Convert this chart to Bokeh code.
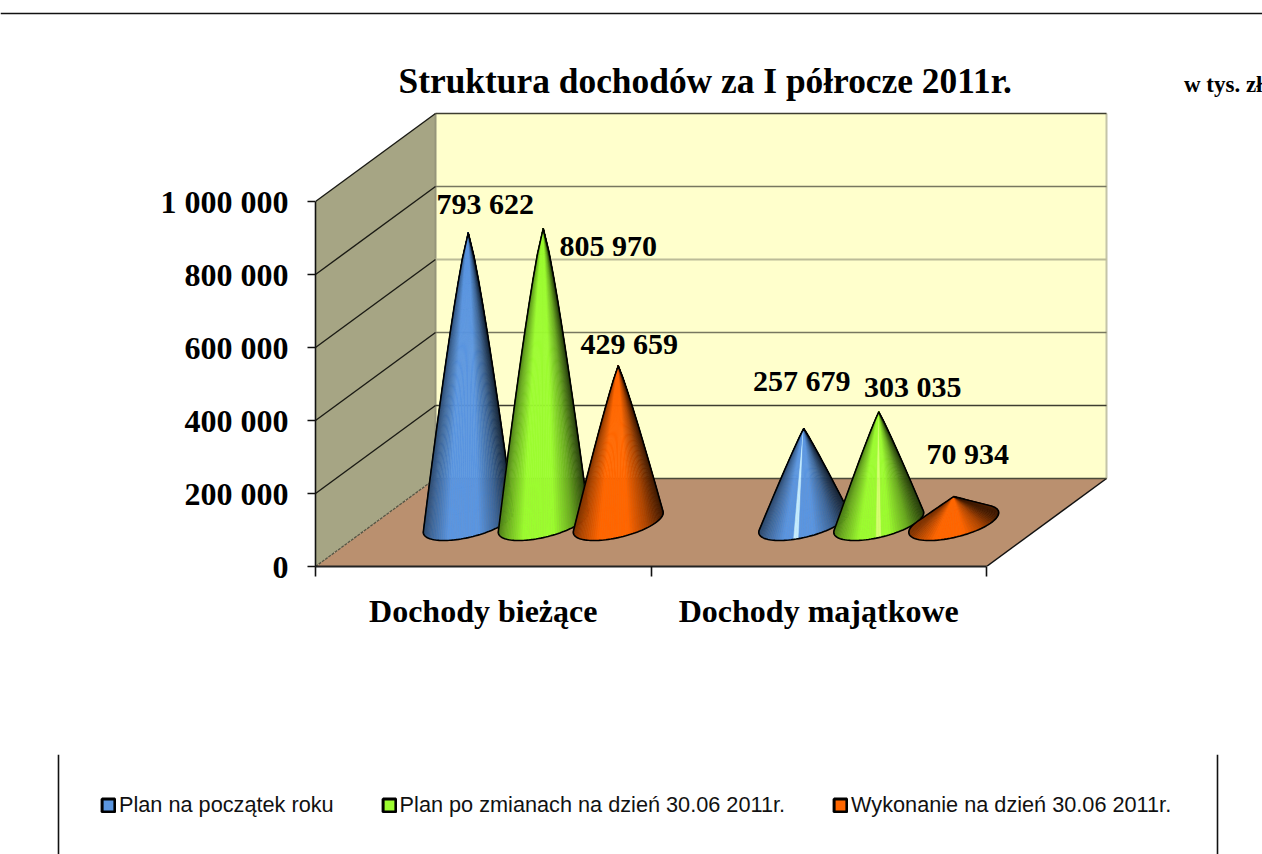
import numpy as np
from bokeh.plotting import figure
from bokeh.embed import file_html
from bokeh.resources import INLINE
from bokeh.models import Range1d, FixedTicker, Span, Title, Legend, LegendItem, ColumnDataSource, LinearAxis
from bokeh.core.properties import value

# ---- data
title_text = "Struktura dochodów za I półrocze 2011r."
unit_text = "w tys. zł"
categories = ["Dochody bieżące", "Dochody majątkowe"]
series_names = ["Plan na początek roku", "Plan po zmianach na dzień 30.06 2011r.", "Wykonanie na dzień 30.06 2011r."]
plan_start = [793622, 257679]
plan_changed = [805970, 303035]
realised = [429659, 70934]
value_labels = [["793 622", "257 679"], ["805 970", "303 035"], ["429 659", "70 934"]]
y_ticks = [0, 200000, 400000, 600000, 800000, 1000000]
y_tick_labels = ["0", "200 000", "400 000", "600 000", "800 000", "1 000 000"]

# ---- style
BLUE, GREEN, ORANGE = (0x5B, 0x96, 0xE0), (0x9C, 0xFC, 0x30), (0xFF, 0x66, 0x00)
series_rgb = [BLUE, GREEN, ORANGE]
WALL, BACK, FLOOR = "#a6a584", "#ffffcc", "#ba906f"
grid_colors = ["#4a4a38", "#3d3d30", "#77775f", "#bcbc98", "#77775f", "#3d3d30"]
SERIF = value("Liberation Serif")

PX_X, PX_Y = 335.5, 365 / 1e6           # pixels per category / per value unit
DX, DY = 120 / PX_X, 88 / PX_Y          # depth of the 3D box
R, KX, KY = 37.7 / PX_X, 24.5 / PX_X, 18 / PX_Y  # cone base ellipse
SPREAD = 75 / PX_X
# label offsets from the apex (px), by series, by category
label_off = [[(17, -29), (-2, -48)], [(65, 17), (34, -25)], [(11, -22), (14, -43)]]
highlights = [[None, (0.42, "#c4ecff")], [None, (0.5, "#d4ff70")], [None, None]]


def shade(rgb, s):
    pts_s = [0.0, 0.08, 0.28, 0.62, 0.82, 1.0]
    pts_v = [0.5, 0.68, 1.0, 1.0, 0.68, 0.25]
    f = float(np.interp(s, pts_s, pts_v))
    return "#%02x%02x%02x" % tuple(int(c * f) for c in rgb)


def cone(cx, val, rgb, hl):
    base = DY / 2
    t = np.linspace(-np.pi, np.pi, 721)
    ex = cx + R * np.cos(t) + KX * np.sin(t)
    ey = base + KY * np.sin(t)
    ax, ay = cx, base + val
    ang = np.arctan2((ex - ax) * PX_X, (ay - ey) * PX_Y)
    il, ir = int(np.argmin(ang)), int(np.argmax(ang))
    tl, tr = t[il], t[ir]
    if tl > -np.pi / 2:
        tl -= 2 * np.pi
    if tr < -np.pi / 2:
        tr += 2 * np.pi
    arc = np.linspace(tl, tr, 61)
    bx = cx + R * np.cos(arc) + KX * np.sin(arc)
    by = base + KY * np.sin(arc)
    lo, hi = bx.min(), bx.max()
    # generators bow slightly outward on the tall cones
    exponent = 1 - 0.17 * min(1.0, val / 800000)
    h = np.linspace(0, 1, 13)
    gx = h ** exponent

    def gen(i):
        return list(ax + (bx[i] - ax) * gx), list(ay + (by[i] - ay) * h)

    xs, ys, cols = [], [], []
    for i in range(len(arc) - 1):
        x1, y1 = gen(i)
        x2, y2 = gen(i + 1)
        xs.append(x1 + x2[::-1])
        ys.append(y1 + y2[::-1])
        s = (0.5 * (bx[i] + bx[i + 1]) - lo) / (hi - lo)
        c = shade(rgb, s)
        if hl and abs(s - hl[0]) < 0.035:
            c = hl[1]
        cols.append(c)
    lx_, ly_ = gen(0)
    rx_, ry_ = gen(len(arc) - 1)
    ox = lx_ + list(bx) + rx_[::-1]
    oy = ly_ + list(by) + ry_[::-1]
    return xs, ys, cols, ox, oy


# ---- strip with the rule at the top
strip = figure(width=1262, height=18, x_range=Range1d(0, 1), y_range=Range1d(0, 18),
               x_axis_location=None, y_axis_location=None, toolbar_location=None,
               output_backend="svg", min_border=0, outline_line_color=None)
strip.grid.visible = False
strip.add_layout(Span(location=5, dimension="width", line_color="#111111", line_width=1.6))

# ---- main chart
p = figure(width=1262, height=736, x_range=Range1d(0, 947 / PX_X), y_range=Range1d(0, 467 / PX_Y),
           toolbar_location=None, output_backend="svg", x_axis_location=None, y_axis_location=None,
           min_border_left=315, min_border_right=0, min_border_top=81, min_border_bottom=188,
           outline_line_color=None)
p.grid.visible = False
p.title.text = title_text
p.title.text_font = "Liberation Serif"
p.title.text_font_size = "35.4px"
p.title.text_font_style = "bold"
p.title.text_color = "#000000"
p.title.align = "left"
p.title.offset = 83
p.title.standoff = -66
p.add_layout(Title(text=unit_text, align="right", offset=0, standoff=5, text_font="Liberation Serif",
                   text_font_size="23px", text_font_style="bold", text_color="#000000"), "above")

top = y_ticks[-1]
n_cat = len(categories)
# walls and floor
p.patch([0, 0, DX, DX], [0, top, top + DY, DY], fill_color=WALL, line_color=None)
p.patch([DX, DX, n_cat + DX, n_cat + DX], [DY, top + DY, top + DY, DY], fill_color=BACK, line_color=None)
p.patch([0, n_cat, n_cat + DX, DX], [0, 0, DY, DY], fill_color=FLOOR, line_color=None)
# wall edges
p.line([DX, DX], [DY, top + DY], line_color="#96957a", line_width=2)
p.line([n_cat + DX, n_cat + DX], [DY, top + DY], line_color="#c4c4a8", line_width=2)
p.line([n_cat, n_cat + DX], [0, DY], line_color="#111111", line_width=1.5)
p.line([0, DX], [0, DY], line_color="#555544", line_width=1.3, line_dash="3 1")
# grid
for v, col in zip(y_ticks, grid_colors):
    p.line([DX, n_cat + DX], [v + DY, v + DY], line_color=col, line_width=2 if col == "#bcbc98" else 1.5)
    if v > 0:
        p.line([0, DX], [v, v + DY], line_color="#1a1a14", line_width=1.4)

# cones
series = [plan_start, plan_changed, realised]
for c in range(n_cat):
    for k, vals in enumerate(series):
        cx = c + 0.5 + (k - 1) * SPREAD + DX / 2
        xs, ys, cols, ox, oy = cone(cx, vals[c], series_rgb[k], highlights[k][c])
        p.patches(xs, ys, fill_color=cols, line_color=cols, line_width=0.6)
        p.line(ox, oy, line_color="#000000", line_width=1.6)

# value labels
lx, ly, lt, xo, yo = [], [], [], [], []
for c in range(n_cat):
    for k, vals in enumerate(series):
        lx.append(c + 0.5 + (k - 1) * SPREAD + DX / 2)
        ly.append(DY / 2 + vals[c])
        lt.append(value_labels[k][c])
        xo.append(label_off[k][c][0])
        yo.append(label_off[k][c][1])
p.text(x="x", y="y", text="t", x_offset="xo", y_offset="yo",
       source=ColumnDataSource(dict(x=lx, y=ly, t=lt, xo=xo, yo=yo)),
       text_font=SERIF, text_font_size="30px", text_font_style="bold", text_color="#000000",
       text_align="center", text_baseline="middle")

# axes
yax = LinearAxis(ticker=FixedTicker(ticks=y_ticks), bounds=(0, top),
                 major_label_overrides={v: s for v, s in zip(y_ticks, y_tick_labels)},
                 major_label_text_font="Liberation Serif", major_label_text_font_size="32px",
                 major_label_text_font_style="bold", major_label_text_color="#000000",
                 major_label_standoff=19, major_tick_in=0, major_tick_out=8, minor_tick_out=0, minor_tick_in=0,
                 axis_line_color="#111111", axis_line_width=1.6,
                 major_tick_line_color="#111111", major_tick_line_width=1.6)
p.add_layout(yax, "left")
cat_pos = [i + 0.5 for i in range(n_cat)]
xax = LinearAxis(ticker=FixedTicker(ticks=cat_pos, minor_ticks=list(range(n_cat + 1))), bounds=(0, n_cat),
                 major_label_overrides={v: s for v, s in zip(cat_pos, categories)},
                 major_label_text_font="Liberation Serif", major_label_text_font_size="32px",
                 major_label_text_font_style="bold", major_label_text_color="#000000",
                 major_label_standoff=16, major_tick_in=0, major_tick_out=0,
                 minor_tick_in=0, minor_tick_out=10, minor_tick_line_color="#111111", minor_tick_line_width=1.6,
                 axis_line_color="#222222", axis_line_width=2)
p.add_layout(xax, "below")

# ---- legend strip with its side rules
q = figure(width=1262, height=100, x_range=Range1d(0, 1262), y_range=Range1d(0, 100),
           x_axis_location=None, y_axis_location=None, toolbar_location=None,
           output_backend="svg", min_border=0, outline_line_color=None)
q.grid.visible = False
q.add_layout(Span(location=58, dimension="height", line_color="#111111", line_width=1.6))
q.add_layout(Span(location=1217, dimension="height", line_color="#111111", line_width=1.6))
items = []
for name, rgb in zip(series_names, series_rgb):
    r = q.rect(x=[-100], y=[-100], width=1, height=1, fill_color="#%02x%02x%02x" % rgb,
               line_color="#000000", line_width=3)
    items.append(LegendItem(label=name, renderers=[r]))
leg = Legend(items=items, orientation="horizontal", location=(100, 36), border_line_color=None,
             background_fill_alpha=0, label_text_font="Liberation Sans", label_text_font_size="21.7px",
             label_text_color="#111111", glyph_width=16, glyph_height=16, label_standoff=3,
             spacing=47, margin=0, padding=0)
q.add_layout(leg, "center")

open("out.html", "w").write(file_html([strip, p, q], INLINE))
